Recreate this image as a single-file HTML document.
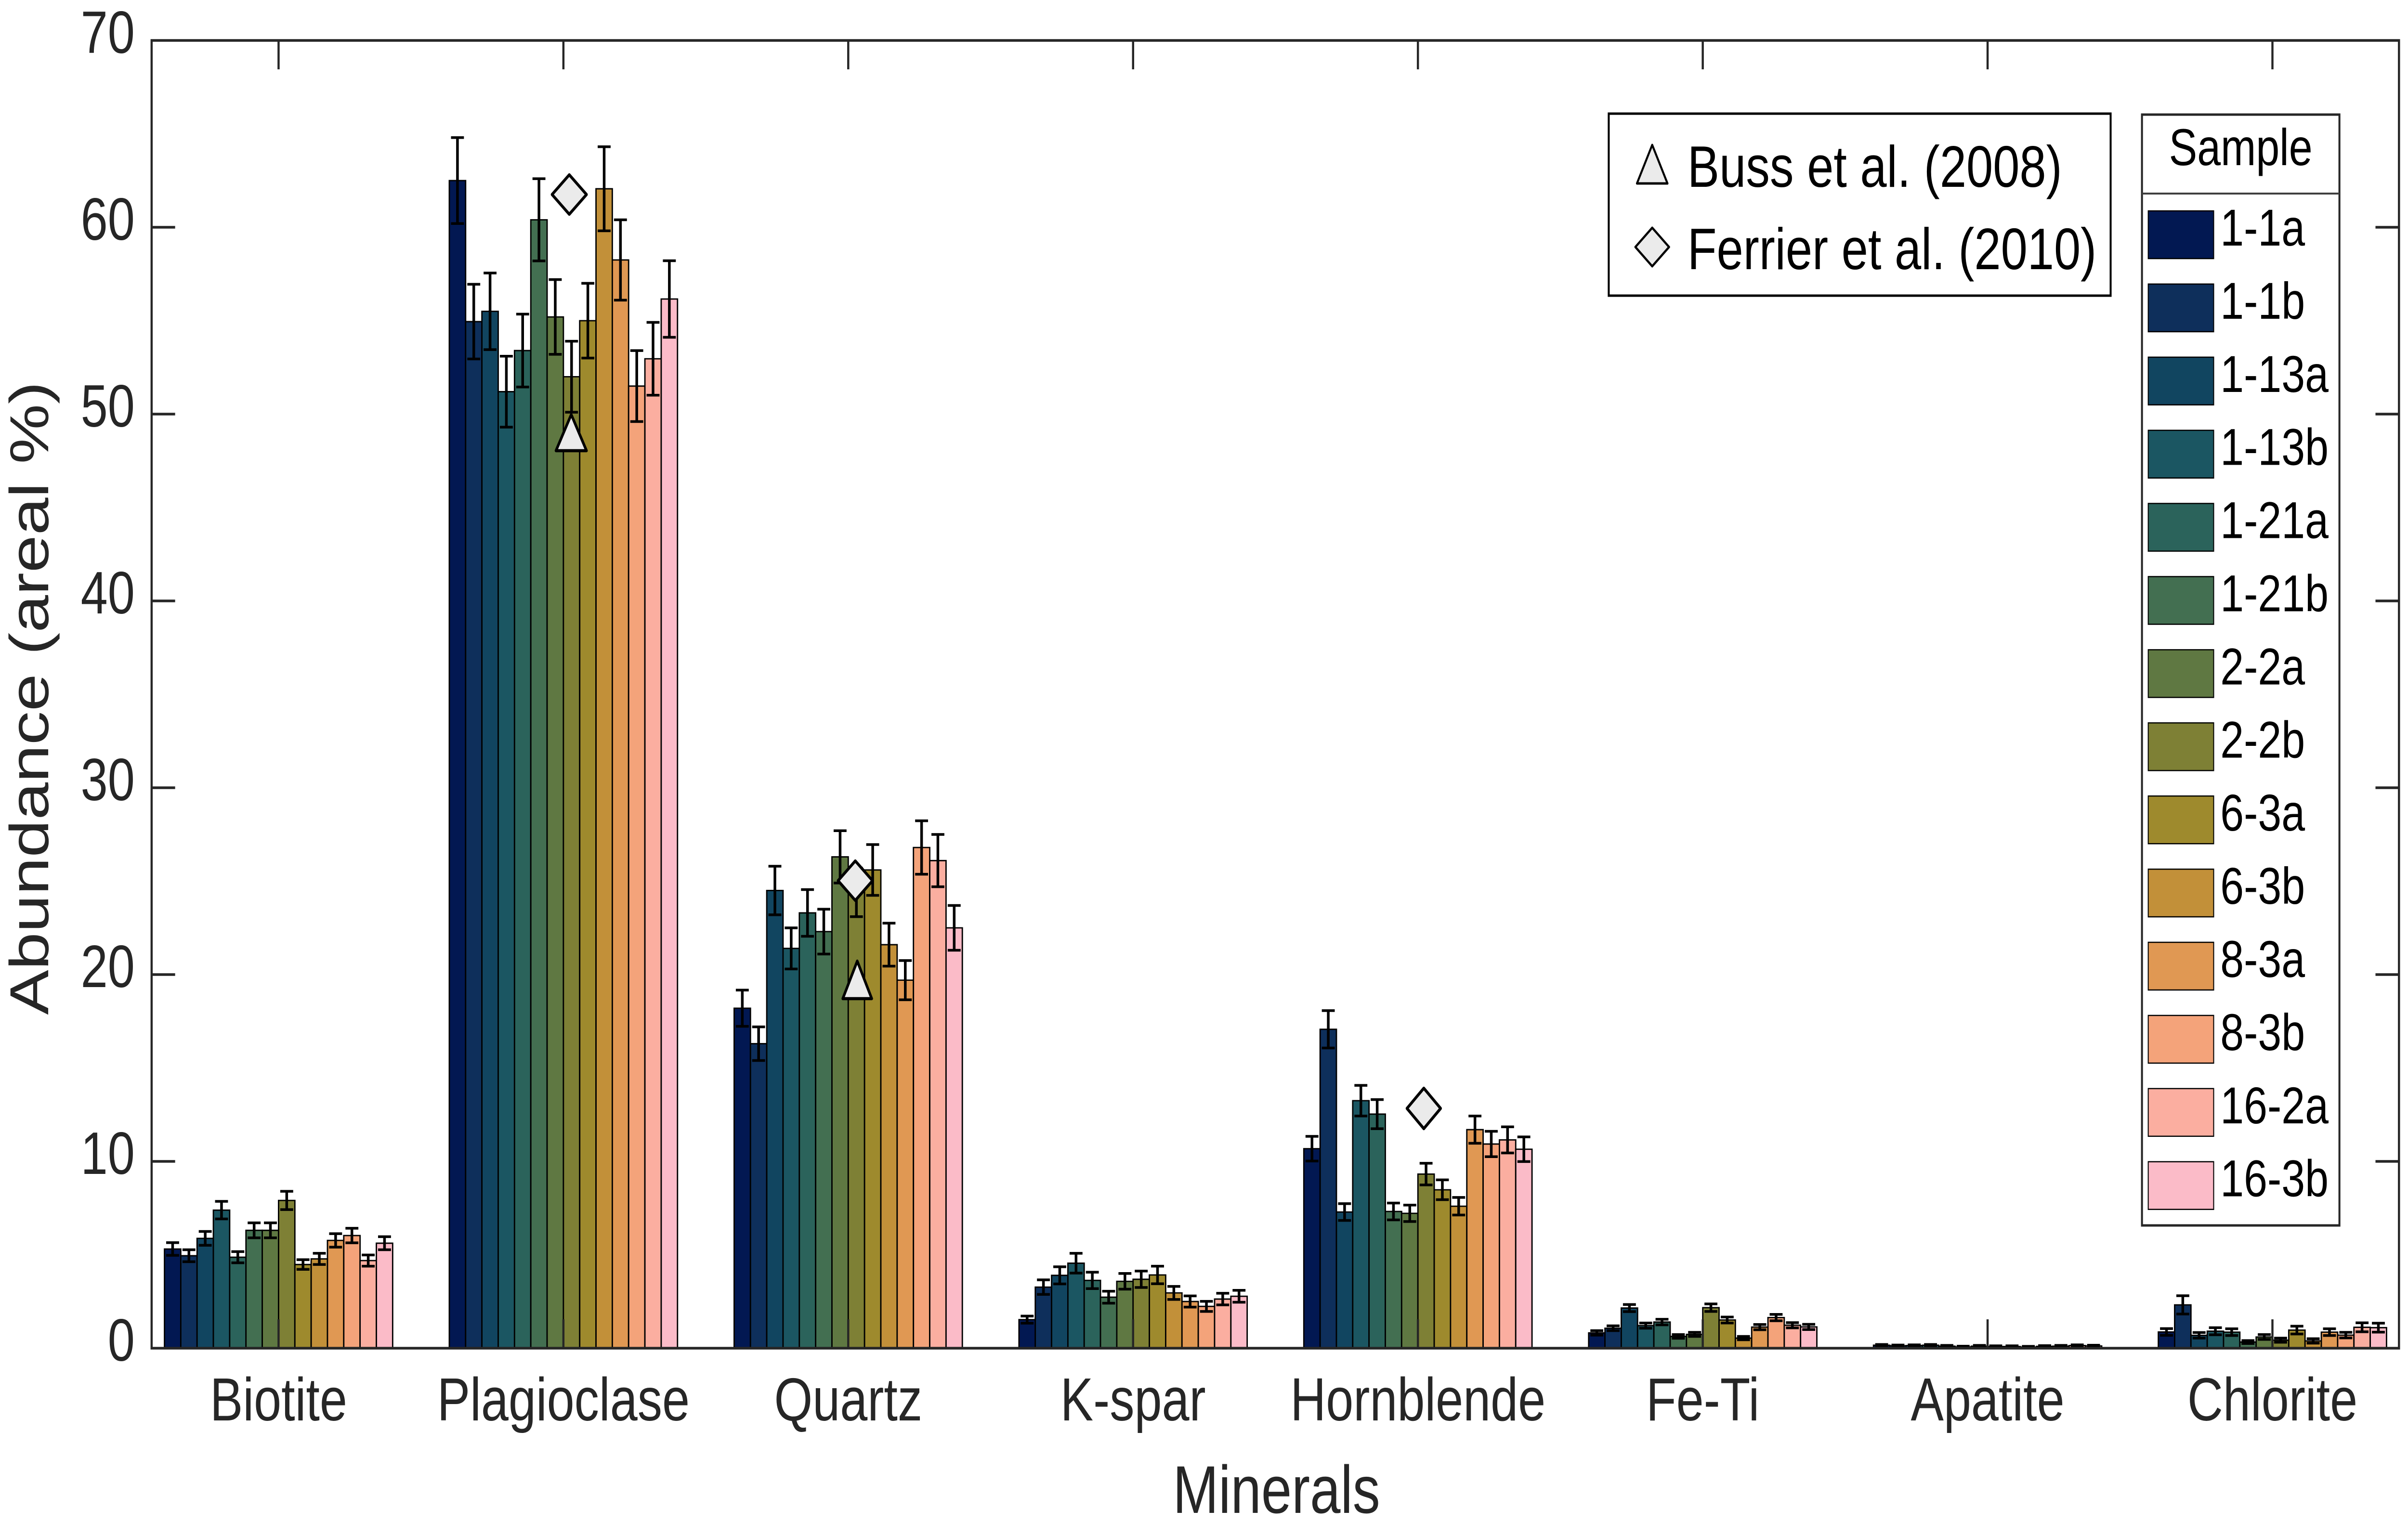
<!DOCTYPE html>
<html><head><meta charset="utf-8"><style>
html,body{margin:0;padding:0;background:#fff;width:100%;height:100%;overflow:hidden;}
svg{display:block;width:100vw;height:100vh;}
.b rect{stroke:#000;stroke-width:2.8;vector-effect:non-scaling-stroke;}
.b path{stroke:#000;stroke-width:5.5;fill:none;vector-effect:non-scaling-stroke;}
.c0{fill:#021852}.c1{fill:#0e2f5b}.c2{fill:#114560}.c3{fill:#1b5662}.c4{fill:#2b635b}.c5{fill:#436f51}.c6{fill:#5f7842}
.c7{fill:#7e8035}.c8{fill:#9e8a2d}.c9{fill:#c29039}.c10{fill:#e09853}.c11{fill:#f4a37a}.c12{fill:#fbaea0}.c13{fill:#fbbbc8}
.t{font-family:"Liberation Sans",Arial,sans-serif;fill:#262626;}
.mk{fill:#ebebeb;stroke:#000;stroke-width:6.5;stroke-linejoin:round;}
.lg rect{stroke:#000;stroke-width:2.5;}
</style></head><body>
<svg viewBox="0 0 6146 3163" preserveAspectRatio="none" xmlns="http://www.w3.org/2000/svg">
<rect width="6146" height="3163" fill="#fff"/>

<!-- Biotite -->
<g class="b" transform="translate(711,2800) scale(1,-38.8)">
<rect x="-291.2" width="41.6" height="5.31" class="c0"/><rect x="-249.6" width="41.6" height="4.95" class="c1"/><rect x="-208" width="41.6" height="5.88" class="c2"/><rect x="-166.4" width="41.6" height="7.39" class="c3"/><rect x="-124.8" width="41.6" height="4.87" class="c4"/><rect x="-83.2" width="41.6" height="6.31" class="c5"/><rect x="-41.6" width="41.6" height="6.31" class="c6"/><rect x="0" width="41.6" height="7.91" class="c7"/><rect x="41.6" width="41.6" height="4.48" class="c8"/><rect x="83.2" width="41.6" height="4.78" class="c9"/><rect x="124.8" width="41.6" height="5.77" class="c10"/><rect x="166.4" width="41.6" height="6.03" class="c11"/><rect x="208" width="41.6" height="4.69" class="c12"/><rect x="249.6" width="41.6" height="5.62" class="c13"/>
<path d="M-270.4 4.97V5.65M-286.9 4.97h33M-286.9 5.65h33
M-228.8 4.63V5.27M-245.3 4.63h33M-245.3 5.27h33
M-187.2 5.51V6.25M-203.7 5.51h33M-203.7 6.25h33
M-145.6 6.92V7.86M-162.1 6.92h33M-162.1 7.86h33
M-104 4.57V5.17M-120.5 4.57h33M-120.5 5.17h33
M-62.4 5.91V6.71M-78.9 5.91h33M-78.9 6.71h33
M-20.8 5.91V6.71M-37.3 5.91h33M-37.3 6.71h33
M20.8 7.42V8.4M4.3 7.42h33M4.3 8.4h33
M62.4 4.22V4.74M45.9 4.22h33M45.9 4.74h33
M104 4.48V5.08M87.5 4.48h33M87.5 5.08h33
M145.6 5.41V6.13M129.1 5.41h33M129.1 6.13h33
M187.2 5.64V6.42M170.7 5.64h33M170.7 6.42h33
M228.8 4.39V4.99M212.3 4.39h33M212.3 4.99h33
M270.4 5.27V5.97M253.9 5.27h33M253.9 5.97h33"/>
</g>

<!-- Plagioclase -->
<g class="b" transform="translate(1438,2800) scale(1,-38.8)">
<rect x="-291.2" width="41.6" height="62.5" class="c0"/><rect x="-249.6" width="41.6" height="54.95" class="c1"/><rect x="-208" width="41.6" height="55.5" class="c2"/><rect x="-166.4" width="41.6" height="51.2" class="c3"/><rect x="-124.8" width="41.6" height="53.4" class="c4"/><rect x="-83.2" width="41.6" height="60.4" class="c5"/><rect x="-41.6" width="41.6" height="55.2" class="c6"/><rect x="0" width="41.6" height="52.0" class="c7"/><rect x="41.6" width="41.6" height="55.0" class="c8"/><rect x="83.2" width="41.6" height="62.06" class="c9"/><rect x="124.8" width="41.6" height="58.25" class="c10"/><rect x="166.4" width="41.6" height="51.5" class="c11"/><rect x="208" width="41.6" height="52.96" class="c12"/><rect x="249.6" width="41.6" height="56.16" class="c13"/>
<path d="M-270.4 60.2V64.8M-286.9 60.2h33M-286.9 64.8h33
M-228.8 52.95V56.95M-245.3 52.95h33M-245.3 56.95h33
M-187.2 53.45V57.55M-203.7 53.45h33M-203.7 57.55h33
M-145.6 49.3V53.1M-162.1 49.3h33M-162.1 53.1h33
M-104 51.45V55.35M-120.5 51.45h33M-120.5 55.35h33
M-62.4 58.2V62.6M-78.9 58.2h33M-78.9 62.6h33
M-20.8 53.2V57.2M-37.3 53.2h33M-37.3 57.2h33
M20.8 50.1V53.9M4.3 50.1h33M4.3 53.9h33
M62.4 53.0V57.0M45.9 53.0h33M45.9 57.0h33
M104 59.81V64.31M87.5 59.81h33M87.5 64.31h33
M145.6 56.1V60.4M129.1 56.1h33M129.1 60.4h33
M187.2 49.6V53.4M170.7 49.6h33M170.7 53.4h33
M228.8 51.01V54.91M212.3 51.01h33M212.3 54.91h33
M270.4 54.11V58.21M253.9 54.11h33M253.9 58.21h33"/>
</g>

<!-- Quartz -->
<g class="b" transform="translate(2165,2800) scale(1,-38.8)">
<rect x="-291.2" width="41.6" height="18.2" class="c0"/><rect x="-249.6" width="41.6" height="16.3" class="c1"/><rect x="-208" width="41.6" height="24.5" class="c2"/><rect x="-166.4" width="41.6" height="21.4" class="c3"/><rect x="-124.8" width="41.6" height="23.3" class="c4"/><rect x="-83.2" width="41.6" height="22.3" class="c5"/><rect x="-41.6" width="41.6" height="26.3" class="c6"/><rect x="0" width="41.6" height="24.4" class="c7"/><rect x="41.6" width="41.6" height="25.6" class="c8"/><rect x="83.2" width="41.6" height="21.6" class="c9"/><rect x="124.8" width="41.6" height="19.7" class="c10"/><rect x="166.4" width="41.6" height="26.8" class="c11"/><rect x="208" width="41.6" height="26.1" class="c12"/><rect x="249.6" width="41.6" height="22.5" class="c13"/>
<path d="M-270.4 17.23V19.17M-286.9 17.23h33M-286.9 19.17h33
M-228.8 15.4V17.2M-245.3 15.4h33M-245.3 17.2h33
M-187.2 23.2V25.8M-203.7 23.2h33M-203.7 25.8h33
M-145.6 20.3V22.5M-162.1 20.3h33M-162.1 22.5h33
M-104 22.05V24.55M-120.5 22.05h33M-120.5 24.55h33
M-62.4 21.1V23.5M-78.9 21.1h33M-78.9 23.5h33
M-20.8 24.9V27.7M-37.3 24.9h33M-37.3 27.7h33
M20.8 23.1V25.7M4.3 23.1h33M4.3 25.7h33
M62.4 24.24V26.96M45.9 24.24h33M45.9 26.96h33
M104 20.45V22.75M87.5 20.45h33M87.5 22.75h33
M145.6 18.65V20.75M129.1 18.65h33M129.1 20.75h33
M187.2 25.37V28.23M170.7 25.37h33M170.7 28.23h33
M228.8 24.7V27.5M212.3 24.7h33M212.3 27.5h33
M270.4 21.3V23.7M253.9 21.3h33M253.9 23.7h33"/>
</g>

<!-- K-spar -->
<g class="b" transform="translate(2892,2800) scale(1,-38.8)">
<rect x="-291.2" width="41.6" height="1.53" class="c0"/><rect x="-249.6" width="41.6" height="3.27" class="c1"/><rect x="-208" width="41.6" height="3.9" class="c2"/><rect x="-166.4" width="41.6" height="4.55" class="c3"/><rect x="-124.8" width="41.6" height="3.63" class="c4"/><rect x="-83.2" width="41.6" height="2.73" class="c5"/><rect x="-41.6" width="41.6" height="3.58" class="c6"/><rect x="0" width="41.6" height="3.69" class="c7"/><rect x="41.6" width="41.6" height="3.92" class="c8"/><rect x="83.2" width="41.6" height="2.96" class="c9"/><rect x="124.8" width="41.6" height="2.5" class="c10"/><rect x="166.4" width="41.6" height="2.24" class="c11"/><rect x="208" width="41.6" height="2.63" class="c12"/><rect x="249.6" width="41.6" height="2.78" class="c13"/>
<path d="M-270.4 1.34V1.72M-286.9 1.34h33M-286.9 1.72h33
M-228.8 2.88V3.66M-245.3 2.88h33M-245.3 3.66h33
M-187.2 3.44V4.36M-203.7 3.44h33M-203.7 4.36h33
M-145.6 4.02V5.08M-162.1 4.02h33M-162.1 5.08h33
M-104 3.19V4.07M-120.5 3.19h33M-120.5 4.07h33
M-62.4 2.41V3.05M-78.9 2.41h33M-78.9 3.05h33
M-20.8 3.16V4.0M-37.3 3.16h33M-37.3 4.0h33
M20.8 3.25V4.13M4.3 3.25h33M4.3 4.13h33
M62.4 3.45V4.39M45.9 3.45h33M45.9 4.39h33
M104 2.61V3.31M87.5 2.61h33M87.5 3.31h33
M145.6 2.2V2.8M129.1 2.2h33M129.1 2.8h33
M187.2 1.97V2.51M170.7 1.97h33M170.7 2.51h33
M228.8 2.32V2.94M212.3 2.32h33M212.3 2.94h33
M270.4 2.46V3.1M253.9 2.46h33M253.9 3.1h33"/>
</g>

<!-- Hornblende -->
<g class="b" transform="translate(3619,2800) scale(1,-38.8)">
<rect x="-291.2" width="41.6" height="10.68" class="c0"/><rect x="-249.6" width="41.6" height="17.07" class="c1"/><rect x="-208" width="41.6" height="7.29" class="c2"/><rect x="-166.4" width="41.6" height="13.25" class="c3"/><rect x="-124.8" width="41.6" height="12.53" class="c4"/><rect x="-83.2" width="41.6" height="7.32" class="c5"/><rect x="-41.6" width="41.6" height="7.22" class="c6"/><rect x="0" width="41.6" height="9.32" class="c7"/><rect x="41.6" width="41.6" height="8.48" class="c8"/><rect x="83.2" width="41.6" height="7.6" class="c9"/><rect x="124.8" width="41.6" height="11.7" class="c10"/><rect x="166.4" width="41.6" height="10.93" class="c11"/><rect x="208" width="41.6" height="11.15" class="c12"/><rect x="249.6" width="41.6" height="10.65" class="c13"/>
<path d="M-270.4 10.02V11.34M-286.9 10.02h33M-286.9 11.34h33
M-228.8 16.07V18.07M-245.3 16.07h33M-245.3 18.07h33
M-187.2 6.84V7.74M-203.7 6.84h33M-203.7 7.74h33
M-145.6 12.43V14.07M-162.1 12.43h33M-162.1 14.07h33
M-104 11.75V13.31M-120.5 11.75h33M-120.5 13.31h33
M-62.4 6.87V7.77M-78.9 6.87h33M-78.9 7.77h33
M-20.8 6.78V7.66M-37.3 6.78h33M-37.3 7.66h33
M20.8 8.74V9.9M4.3 8.74h33M4.3 9.9h33
M62.4 7.95V9.01M45.9 7.95h33M45.9 9.01h33
M104 7.13V8.07M87.5 7.13h33M87.5 8.07h33
M145.6 10.97V12.43M129.1 10.97h33M129.1 12.43h33
M187.2 10.25V11.61M170.7 10.25h33M170.7 11.61h33
M228.8 10.45V11.85M212.3 10.45h33M212.3 11.85h33
M270.4 9.99V11.31M253.9 9.99h33M253.9 11.31h33"/>
</g>

<!-- Fe-Ti -->
<g class="b" transform="translate(4346,2800) scale(1,-38.8)">
<rect x="-291.2" width="41.6" height="0.82" class="c0"/><rect x="-249.6" width="41.6" height="1.07" class="c1"/><rect x="-208" width="41.6" height="2.15" class="c2"/><rect x="-166.4" width="41.6" height="1.21" class="c3"/><rect x="-124.8" width="41.6" height="1.40" class="c4"/><rect x="-83.2" width="41.6" height="0.63" class="c5"/><rect x="-41.6" width="41.6" height="0.74" class="c6"/><rect x="0" width="41.6" height="2.17" class="c7"/><rect x="41.6" width="41.6" height="1.51" class="c8"/><rect x="83.2" width="41.6" height="0.54" class="c9"/><rect x="124.8" width="41.6" height="1.13" class="c10"/><rect x="166.4" width="41.6" height="1.64" class="c11"/><rect x="208" width="41.6" height="1.23" class="c12"/><rect x="249.6" width="41.6" height="1.14" class="c13"/>
<path d="M-270.4 0.70V0.94M-286.9 0.70h33M-286.9 0.94h33
M-228.8 0.94V1.20M-245.3 0.94h33M-245.3 1.20h33
M-187.2 1.96V2.34M-203.7 1.96h33M-203.7 2.34h33
M-145.6 1.07V1.35M-162.1 1.07h33M-162.1 1.35h33
M-104 1.25V1.55M-120.5 1.25h33M-120.5 1.55h33
M-62.4 0.53V0.73M-78.9 0.53h33M-78.9 0.73h33
M-20.8 0.63V0.85M-37.3 0.63h33M-37.3 0.85h33
M20.8 1.97V2.37M4.3 1.97h33M4.3 2.37h33
M62.4 1.35V1.67M45.9 1.35h33M45.9 1.67h33
M104 0.45V0.63M87.5 0.45h33M87.5 0.63h33
M145.6 0.99V1.27M129.1 0.99h33M129.1 1.27h33
M187.2 1.47V1.81M170.7 1.47h33M170.7 1.81h33
M228.8 1.09V1.37M212.3 1.09h33M212.3 1.37h33
M270.4 1.0V1.28M253.9 1.0h33M253.9 1.28h33"/>
</g>

<!-- Apatite -->
<g class="b" transform="translate(5073,2800) scale(1,-38.8)">
<rect x="-291.2" width="41.6" height="0.16" class="c0"/><rect x="-249.6" width="41.6" height="0.13" class="c1"/><rect x="-208" width="41.6" height="0.14" class="c2"/><rect x="-166.4" width="41.6" height="0.16" class="c3"/><rect x="-124.8" width="41.6" height="0.11" class="c4"/><rect x="-83.2" width="41.6" height="0.07" class="c5"/><rect x="-41.6" width="41.6" height="0.11" class="c6"/><rect x="0" width="41.6" height="0.09" class="c7"/><rect x="41.6" width="41.6" height="0.09" class="c8"/><rect x="83.2" width="41.6" height="0.06" class="c9"/><rect x="124.8" width="41.6" height="0.1" class="c10"/><rect x="166.4" width="41.6" height="0.11" class="c11"/><rect x="208" width="41.6" height="0.14" class="c12"/><rect x="249.6" width="41.6" height="0.12" class="c13"/>
<path d="M-270.4 0.12V0.20M-286.9 0.12h33M-286.9 0.20h33
M-228.8 0.09V0.17M-245.3 0.09h33M-245.3 0.17h33
M-187.2 0.10V0.18M-203.7 0.10h33M-203.7 0.18h33
M-145.6 0.12V0.20M-162.1 0.12h33M-162.1 0.20h33
M-104 0.07V0.15M-120.5 0.07h33M-120.5 0.15h33
M-62.4 0.03V0.11M-78.9 0.03h33M-78.9 0.11h33
M-20.8 0.07V0.15M-37.3 0.07h33M-37.3 0.15h33
M20.8 0.05V0.13M4.3 0.05h33M4.3 0.13h33
M62.4 0.05V0.13M45.9 0.05h33M45.9 0.13h33
M104 0.02V0.10M87.5 0.02h33M87.5 0.10h33
M145.6 0.06V0.14M129.1 0.06h33M129.1 0.14h33
M187.2 0.07V0.15M170.7 0.07h33M170.7 0.15h33
M228.8 0.10V0.18M212.3 0.10h33M212.3 0.18h33
M270.4 0.08V0.16M253.9 0.08h33M253.9 0.16h33"/>
</g>

<!-- Chlorite -->
<g class="b" transform="translate(5800,2800) scale(1,-38.8)">
<rect x="-291.2" width="41.6" height="0.87" class="c0"/><rect x="-249.6" width="41.6" height="2.32" class="c1"/><rect x="-208" width="41.6" height="0.69" class="c2"/><rect x="-166.4" width="41.6" height="0.91" class="c3"/><rect x="-124.8" width="41.6" height="0.86" class="c4"/><rect x="-83.2" width="41.6" height="0.33" class="c5"/><rect x="-41.6" width="41.6" height="0.6" class="c6"/><rect x="0" width="41.6" height="0.43" class="c7"/><rect x="41.6" width="41.6" height="0.97" class="c8"/><rect x="83.2" width="41.6" height="0.39" class="c9"/><rect x="124.8" width="41.6" height="0.86" class="c10"/><rect x="166.4" width="41.6" height="0.7" class="c11"/><rect x="208" width="41.6" height="1.12" class="c12"/><rect x="249.6" width="41.6" height="1.1" class="c13"/>
<path d="M-270.4 0.69V1.05M-286.9 0.69h33M-286.9 1.05h33
M-228.8 1.83V2.81M-245.3 1.83h33M-245.3 2.81h33
M-187.2 0.54V0.84M-203.7 0.54h33M-203.7 0.84h33
M-145.6 0.72V1.10M-162.1 0.72h33M-162.1 1.10h33
M-104 0.68V1.04M-120.5 0.68h33M-120.5 1.04h33
M-62.4 0.25V0.41M-78.9 0.25h33M-78.9 0.41h33
M-20.8 0.47V0.73M-37.3 0.47h33M-37.3 0.73h33
M20.8 0.32V0.54M4.3 0.32h33M4.3 0.54h33
M62.4 0.76V1.18M45.9 0.76h33M45.9 1.18h33
M104 0.27V0.51M87.5 0.27h33M87.5 0.51h33
M145.6 0.68V1.04M129.1 0.68h33M129.1 1.04h33
M187.2 0.55V0.85M170.7 0.55h33M170.7 0.85h33
M228.8 0.88V1.36M212.3 0.88h33M212.3 1.36h33
M270.4 0.86V1.34M253.9 0.86h33M253.9 1.34h33"/>
</g>

<!-- Reference markers -->
<path class="mk" d="M1453 363L1497 404L1453 445L1409 404Z"/>
<path class="mk" d="M1458 861L1497 936L1419 936Z"/>
<path class="mk" d="M2183 1788L2227 1829L2183 1870L2139 1829Z"/>
<path class="mk" d="M2188 1996L2225 2074L2151 2074Z"/>
<path class="mk" d="M3634 2260L3677 2302L3634 2344L3591 2302Z"/>

<!-- Axes box and ticks -->
<g stroke="#262626" stroke-width="5.5" fill="none">
<rect x="387" y="84" width="5736" height="2716"/>
<path d="M387 2412h60M387 2024h60M387 1636h60M387 1248h60M387 860h60M387 472h60
M6123 2412h-60M6123 2024h-60M6123 1636h-60M6123 1248h-60M6123 860h-60M6123 472h-60
M711 2800v-60M1438 2800v-60M2165 2800v-60M2892 2800v-60M3619 2800v-60M4346 2800v-60M5073 2800v-60M5800 2800v-60
M711 84v60M1438 84v60M2165 84v60M2892 84v60M3619 84v60M4346 84v60M5073 84v60M5800 84v60"/>
</g>

<!-- Y tick labels -->
<g class="t" font-size="124" text-anchor="end">
<text x="344" y="2826">0</text>
<text x="344" y="2438">10</text>
<text x="344" y="2050">20</text>
<text x="344" y="1662">30</text>
<text x="344" y="1274">40</text>
<text x="344" y="886">50</text>
<text x="344" y="498">60</text>
<text x="344" y="110">70</text>
</g>

<!-- X tick labels -->
<g class="t" font-size="126" text-anchor="middle">
<text x="711" y="2950">Biotite</text>
<text x="1438" y="2950">Plagioclase</text>
<text x="2165" y="2950">Quartz</text>
<text x="2892" y="2950">K-spar</text>
<text x="3619" y="2950">Hornblende</text>
<text x="4346" y="2950">Fe-Ti</text>
<text x="5073" y="2950">Apatite</text>
<text x="5800" y="2950">Chlorite</text>
</g>

<text class="t" x="3258" y="3142" font-size="140" text-anchor="middle">Minerals</text>
<text class="t" font-size="140" text-anchor="middle" transform="translate(123,1450) rotate(-90)">Abundance (areal %)</text>

<!-- Marker legend -->
<rect x="4106" y="236" width="1281" height="378" fill="#fff" stroke="#000" stroke-width="5"/>
<path d="M4217 301L4256 381L4178 381Z" fill="#ebebeb" stroke="#000" stroke-width="5" stroke-linejoin="round"/>
<path d="M4217 473L4260 513L4217 553L4174 513Z" fill="#ebebeb" stroke="#000" stroke-width="5" stroke-linejoin="round"/>
<g font-family="Liberation Sans, Arial, sans-serif" font-size="122" fill="#000">
<text x="4307" y="388">Buss et al. (2008)</text>
<text x="4307" y="559">Ferrier et al. (2010)</text>
</g>

<!-- Sample legend -->
<rect x="5467" y="238" width="504" height="2307" fill="#fff" stroke="#262626" stroke-width="5"/>
<line x1="5467" y1="402" x2="5971" y2="402" stroke="#404040" stroke-width="4"/>
<text x="5719" y="343" font-family="Liberation Sans, Arial, sans-serif" font-size="108" text-anchor="middle" fill="#000">Sample</text>
<g class="lg">
<rect x="5483" y="438" width="167" height="99" class="c0"/>
<rect x="5483" y="589.9" width="167" height="99" class="c1"/>
<rect x="5483" y="741.8" width="167" height="99" class="c2"/>
<rect x="5483" y="893.7" width="167" height="99" class="c3"/>
<rect x="5483" y="1045.6" width="167" height="99" class="c4"/>
<rect x="5483" y="1197.5" width="167" height="99" class="c5"/>
<rect x="5483" y="1349.4" width="167" height="99" class="c6"/>
<rect x="5483" y="1501.3" width="167" height="99" class="c7"/>
<rect x="5483" y="1653.2" width="167" height="99" class="c8"/>
<rect x="5483" y="1805.1" width="167" height="99" class="c9"/>
<rect x="5483" y="1957" width="167" height="99" class="c10"/>
<rect x="5483" y="2108.9" width="167" height="99" class="c11"/>
<rect x="5483" y="2260.8" width="167" height="99" class="c12"/>
<rect x="5483" y="2412.7" width="167" height="99" class="c13"/>
</g>
<g font-family="Liberation Sans, Arial, sans-serif" font-size="108" fill="#000">
<text x="5667" y="510">1-1a</text>
<text x="5667" y="661.9">1-1b</text>
<text x="5667" y="813.8">1-13a</text>
<text x="5667" y="965.7">1-13b</text>
<text x="5667" y="1117.6">1-21a</text>
<text x="5667" y="1269.5">1-21b</text>
<text x="5667" y="1421.4">2-2a</text>
<text x="5667" y="1573.3">2-2b</text>
<text x="5667" y="1725.2">6-3a</text>
<text x="5667" y="1877.1">6-3b</text>
<text x="5667" y="2029">8-3a</text>
<text x="5667" y="2180.9">8-3b</text>
<text x="5667" y="2332.8">16-2a</text>
<text x="5667" y="2484.7">16-3b</text>
</g>
</svg>
</body></html>
